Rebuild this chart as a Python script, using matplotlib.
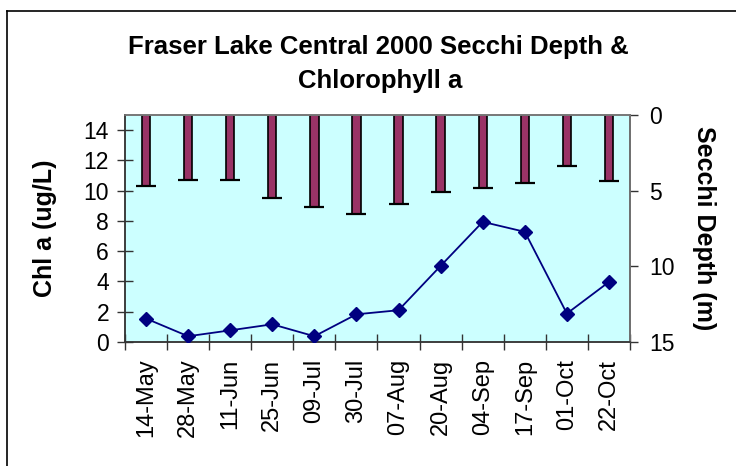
import matplotlib
matplotlib.use("Agg")
import matplotlib.pyplot as plt
import numpy as np

plt.rcParams['font.family'] = ['Liberation Sans', 'DejaVu Sans']

# dates sampled
dates = ['14-May', '28-May', '11-Jun', '25-Jun', '09-Jul', '30-Jul',
         '07-Aug', '20-Aug', '04-Sep', '17-Sep', '01-Oct', '22-Oct']
# chlorophyll a (ug/L)
chl = [1.55, 0.38, 0.77, 1.17, 0.38, 1.83, 2.1, 5.03, 7.94, 7.28, 1.88, 3.97]
# secchi depth (m)
secchi = [4.67, 4.27, 4.27, 5.46, 6.1, 6.54, 5.86, 5.07, 4.8, 4.52, 3.35, 4.36]

x = np.arange(len(dates))

fig = plt.figure(figsize=(7.36, 4.66), dpi=100)
ax = fig.add_axes([0.1698, 0.2661, 0.6862, 0.4871])

# secchi bars hanging from the top, on an inverted right axis
ax2 = ax.twinx()
ax2.patch.set_visible(True)
ax2.patch.set_facecolor('#CCFFFF')
ax2.bar(x, secchi, width=0.2, color='#993366', edgecolor='black', linewidth=1.2, zorder=2)
ax2.plot(x, secchi, linestyle='none', marker='_', markersize=14,
         markeredgewidth=1.6, color='black', zorder=3)
ax2.set_ylim(15, 0)
ax2.set_yticks([0, 5, 10, 15])
ax2.set_ylabel('Secchi Depth (m)', fontsize=18, fontweight='bold', rotation=-90,
               va='center', ha='center')
ax2.yaxis.set_label_coords(1.147, 0.5)

# chlorophyll line in front
ax.set_zorder(ax2.get_zorder() + 1)
ax.patch.set_visible(False)
ax.plot(x, chl, color='#000080', marker='D', markersize=7.5, linewidth=1.3, zorder=4)

ax.set_xlim(-0.5, len(dates) - 0.5)
ax.set_ylim(0, 15)
ax.set_yticks(range(0, 15, 2))
ax.set_ylabel('Chl a (ug/L)', fontsize=18, fontweight='bold', va='center', ha='center')
ax.yaxis.set_label_coords(-0.158, 0.5)

ax.set_xticks(np.arange(len(dates) + 1) - 0.5)
ax.set_xticklabels([])
ax.set_xticks(x, minor=True)
ax.set_xticklabels(dates, minor=True, rotation=90)
ax.tick_params(axis='x', which='major', direction='inout', length=11, width=1, color='#333333')
ax.tick_params(axis='x', which='minor', length=0, labelsize=17, pad=12)
ax.tick_params(axis='y', direction='inout', length=11, width=1, color='#333333', labelsize=16.5, pad=6)
ax2.tick_params(axis='y', direction='out', length=6, width=1, color='#333333', labelsize=16.5, pad=8)

for a in (ax, ax2):
    for s in a.spines.values():
        s.set_color('#777777')
        s.set_linewidth(1.2)
ax.spines['left'].set_color('#333333')
ax.spines['bottom'].set_color('#333333')
ax2.spines['right'].set_color('#333333')

fig.text(0.514, 0.9, 'Fraser Lake Central 2000 Secchi Depth &',
         ha='center', va='center', fontsize=18.5, fontweight='bold')
fig.text(0.516, 0.826, 'Chlorophyll a',
         ha='center', va='center', fontsize=18.5, fontweight='bold')

# outer chart border (top and left only visible)
fig.add_artist(plt.Line2D([0.0095, 1.0], [0.976, 0.976], color='black', linewidth=1.2))
fig.add_artist(plt.Line2D([0.0095, 0.0095], [0.0, 0.976], color='black', linewidth=1.2))

fig.savefig('out.png', dpi=100)
